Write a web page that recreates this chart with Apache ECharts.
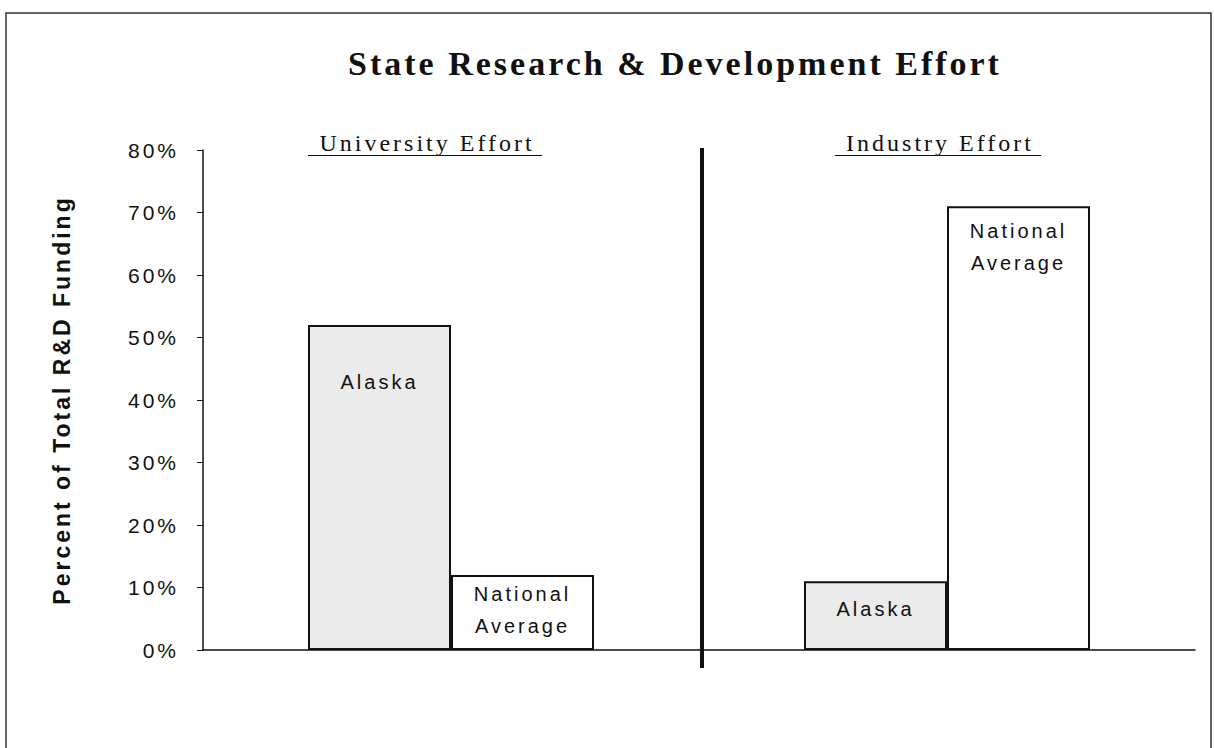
<!DOCTYPE html>
<html>
<head>
<meta charset="utf-8">
<script src="https://cdn.jsdelivr.net/npm/echarts@6/dist/echarts.min.js"></script>
<style>
  html, body { margin: 0; padding: 0; background: #fff; }
  #main { width: 1214px; height: 748px; }
  /* the original is typeset with wide letter spacing */
  #main svg text { letter-spacing: 3px; }
</style>
</head>
<body>
<div id="main"></div>
<script>
// data
var categories = ['University Effort', 'Industry Effort'];
var alaskaValues = [52, 11];
var nationalValues = [12, 71];
var yTicks = [0, 10, 20, 30, 40, 50, 60, 70, 80];

// label offsets inside each bar (px from the top)
var alaskaLabelGap = [41, 12];
var nationalLabelGap = [3, 9];

var labelFont = {
    fontFamily: 'Liberation Sans, Arial, sans-serif',
    fontSize: 20,
    color: '#111',
    lineHeight: 32
};

function items(values, gaps, text) {
    return values.map(function (v, i) {
        return {
            value: v,
            label: {
                show: true,
                position: 'insideTop',
                distance: gaps[i],
                formatter: text
            }
        };
    });
}

var option = {
    animation: false,
    backgroundColor: '#fff',
    title: {
        text: 'State Research & Development Effort',
        left: 670,
        top: 41,
        textAlign: 'center',
        textStyle: {
            fontFamily: 'Liberation Serif, Times New Roman, serif',
            fontWeight: 'bold',
            fontSize: 34,
            color: '#111'
        }
    },
    grid: { left: 203, right: 19, top: 150, bottom: 98 },
    xAxis: {
        type: 'category',
        data: categories,
        axisLine: { lineStyle: { color: '#111', width: 1.5 } },
        axisTick: { show: false },
        axisLabel: { show: false }
    },
    yAxis: {
        type: 'value',
        min: yTicks[0],
        max: yTicks[yTicks.length - 1],
        interval: 10,
        name: 'Percent of Total R&D Funding',
        nameLocation: 'middle',
        nameGap: 130,
        nameTextStyle: {
            fontFamily: 'Liberation Sans, Arial, sans-serif',
            fontWeight: 'bold',
            fontSize: 23,
            color: '#111'
        },
        axisLine: { show: true, lineStyle: { color: '#111', width: 1.5 } },
        axisTick: { show: true, length: 6, lineStyle: { color: '#111' } },
        splitLine: { show: false },
        axisLabel: {
            formatter: '{value}%',
            margin: 24,
            fontFamily: 'Liberation Sans, Arial, sans-serif',
            fontSize: 21,
            color: '#111'
        }
    },
    series: [{
        name: 'Alaska',
        type: 'bar',
        barWidth: 143,
        barGap: '0%',
        itemStyle: { color: '#ebebeb', borderColor: '#111', borderWidth: 2 },
        label: labelFont,
        data: items(alaskaValues, alaskaLabelGap, 'Alaska')
    }, {
        name: 'National Average',
        type: 'bar',
        barWidth: 143,
        itemStyle: { color: '#fff', borderColor: '#111', borderWidth: 2 },
        label: labelFont,
        data: items(nationalValues, nationalLabelGap, 'National\nAverage')
    }]
};

var myChart = echarts.init(document.getElementById('main'), null, { renderer: 'svg' });
myChart.setOption(option);

// divider between the two groups, sub headings and frame
var c0 = myChart.convertToPixel({ xAxisIndex: 0 }, categories[0]);
var c1 = myChart.convertToPixel({ xAxisIndex: 0 }, categories[1]);
var midX = (c0 + c1) / 2;
var subFont = '24px "Liberation Serif", "Times New Roman", serif';

myChart.setOption({
    graphic: [
        {
            type: 'rect',
            shape: { x: 6, y: 13, width: 1205, height: 760 },
            style: { fill: 'none', stroke: '#333', lineWidth: 1.5 },
            silent: true
        },
        {
            type: 'line',
            shape: { x1: midX + 3, y1: 148, x2: midX + 3, y2: 668 },
            style: { stroke: '#111', lineWidth: 4 },
            z: 10
        },
        {
            type: 'text',
            x: c0 - 24, y: 155,
            style: { text: categories[0], font: subFont, fill: '#111', align: 'center', verticalAlign: 'bottom' }
        },
        {
            type: 'line',
            shape: { x1: c0 - 143, y1: 155.5, x2: c0 + 91, y2: 155.5 },
            style: { stroke: '#111', lineWidth: 1 }
        },
        {
            type: 'text',
            x: c1 - 7, y: 155,
            style: { text: categories[1], font: subFont, fill: '#111', align: 'center', verticalAlign: 'bottom' }
        },
        {
            type: 'line',
            shape: { x1: c1 - 112, y1: 155.5, x2: c1 + 94, y2: 155.5 },
            style: { stroke: '#111', lineWidth: 1 }
        }
    ]
});
</script>
</body>
</html>
